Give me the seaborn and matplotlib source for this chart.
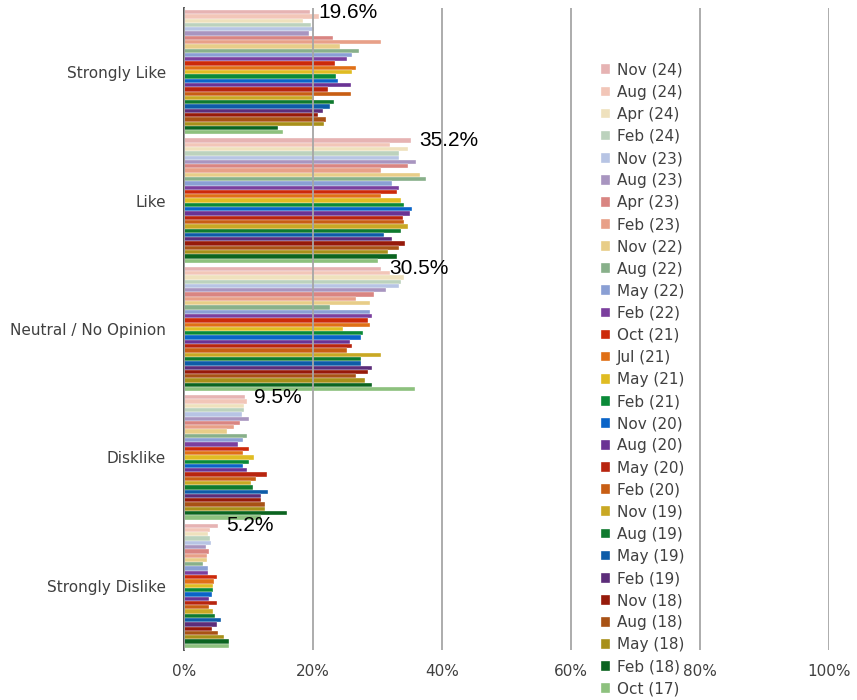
import pandas as pd
import seaborn as sns
import matplotlib.pyplot as plt
from matplotlib.ticker import FuncFormatter

categorias = ['Strongly Like', 'Like', 'Neutral / No Opinion', 'Disklike', 'Strongly Dislike']

periodos = ['Nov (24)', 'Aug (24)', 'Apr (24)', 'Feb (24)', 'Nov (23)', 'Aug (23)', 'Apr (23)',
            'Feb (23)', 'Nov (22)', 'Aug (22)', 'May (22)', 'Feb (22)', 'Oct (21)', 'Jul (21)',
            'May (21)', 'Feb (21)', 'Nov (20)', 'Aug (20)', 'May (20)', 'Feb (20)', 'Nov (19)',
            'Aug (19)', 'May (19)', 'Feb (19)', 'Nov (18)', 'Aug (18)', 'May (18)', 'Feb (18)',
            'Oct (17)']

cores = ['#E6B3B3', '#F2C6B8', '#EFE1BD', '#BCD2BD', '#B7C4E4', '#A895C0', '#D98582',
         '#E8A088', '#E8CD88', '#88B08A', '#8A9FD4', '#7B3F9E', '#CC2A0A', '#E07016',
         '#E0BC22', '#0A8A38', '#0A64C8', '#6A3394', '#B8250F', '#C85E14', '#C9A824',
         '#0F7A2E', '#0E5CA8', '#5C2D7A', '#961A0A', '#A85215', '#A8901A', '#0B6420',
         '#8DC17E']

# valores em %, na ordem dos periodos
strongly_like = [19.6, 20.9, 18.4, 19.7, 20.2, 19.4, 23.1, 30.5, 24.2, 27.2, 26.1, 25.3, 23.4, 26.7,
                 26.1, 23.6, 23.8, 25.9, 22.4, 25.9, 20.1, 23.3, 22.6, 21.5, 20.8, 22.0, 21.7, 14.6,
                 15.3]
like = [35.2, 31.9, 34.7, 33.3, 33.3, 35.9, 34.8, 30.5, 36.6, 37.5, 32.2, 33.3, 33.1, 30.5,
        33.7, 34.1, 35.3, 35.0, 33.9, 34.1, 34.7, 33.7, 31.0, 32.3, 34.2, 33.4, 31.6, 33.1,
        30.0]
neutral = [30.5, 32.0, 34.1, 33.7, 33.3, 31.3, 29.5, 26.7, 28.8, 22.7, 28.8, 29.2, 28.5, 28.9,
           24.7, 27.8, 27.4, 25.8, 26.0, 25.2, 30.5, 27.4, 27.5, 29.2, 28.6, 26.7, 28.1, 29.2,
           35.8]
dislike = [9.5, 9.8, 9.3, 9.3, 9.0, 10.1, 8.7, 7.8, 6.7, 9.8, 9.2, 8.4, 10.0, 9.2,
           10.9, 10.0, 9.2, 9.7, 12.8, 11.1, 10.4, 10.7, 13.1, 12.0, 12.0, 12.6, 12.6, 15.9,
           12.0]
strongly_dislike = [5.2, 4.0, 3.7, 4.0, 4.2, 3.4, 3.9, 3.6, 3.6, 3.0, 3.7, 3.7, 5.1, 4.7,
                    4.5, 4.5, 4.4, 3.9, 5.1, 3.9, 4.5, 4.8, 5.8, 5.1, 4.4, 5.3, 6.2, 7.0,
                    7.0]

valores = [strongly_like, like, neutral, dislike, strongly_dislike]

linhas = []
for cat, vals in zip(categorias, valores):
    for per, v in zip(periodos, vals):
        linhas.append({'Categoria': cat, 'Periodo': per, 'Valor': v})
df = pd.DataFrame(linhas)

sns.set_style('white')
plt.rcParams['font.family'] = ['DejaVu Sans']

fig = plt.figure(figsize=(8.57, 7), dpi=100)
ax = fig.add_axes([184 / 857, 1 - 650 / 700, (829 - 184) / 857, 642 / 700])

sns.barplot(data=df, x='Valor', y='Categoria', hue='Periodo', order=categorias,
            hue_order=periodos, palette=cores, orient='h', width=0.97,
            edgecolor='white', linewidth=0.25, saturation=1, errorbar=None, ax=ax)

ax.set_xlim(0, 100)
ax.set_xticks([0, 20, 40, 60, 80, 100])
ax.xaxis.set_major_formatter(FuncFormatter(lambda v, p: f'{v:.0f}%'))
ax.grid(axis='x', color='#A6A6A6', linewidth=1.3)
ax.set_axisbelow(False)
ax.set_xlabel('')
ax.set_ylabel('')
ax.tick_params(axis='both', length=0, labelsize=11, colors='#404040')
ax.tick_params(axis='y', pad=13)
ax.tick_params(axis='x', pad=10)

for lado in ['top', 'right', 'bottom']:
    ax.spines[lado].set_visible(False)
ax.spines['left'].set_color('#404040')
ax.spines['left'].set_linewidth(1.3)

# rótulo só para o período mais recente
ax.bar_label(ax.containers[0], labels=[f'{v:.1f}%' for v in [c[0] for c in valores]],
             padding=6, fontsize=15, family='Liberation Sans', color='black')

ax.legend(loc='upper left', bbox_to_anchor=(593 / 857, 1 - 55 / 700),
          bbox_transform=fig.transFigure, frameon=False, fontsize=11,
          handlelength=0.6, handleheight=0.6, handletextpad=0.45, labelspacing=0.465,
          labelcolor='#404040', borderpad=0)

fig.savefig('out.png', dpi=100)
